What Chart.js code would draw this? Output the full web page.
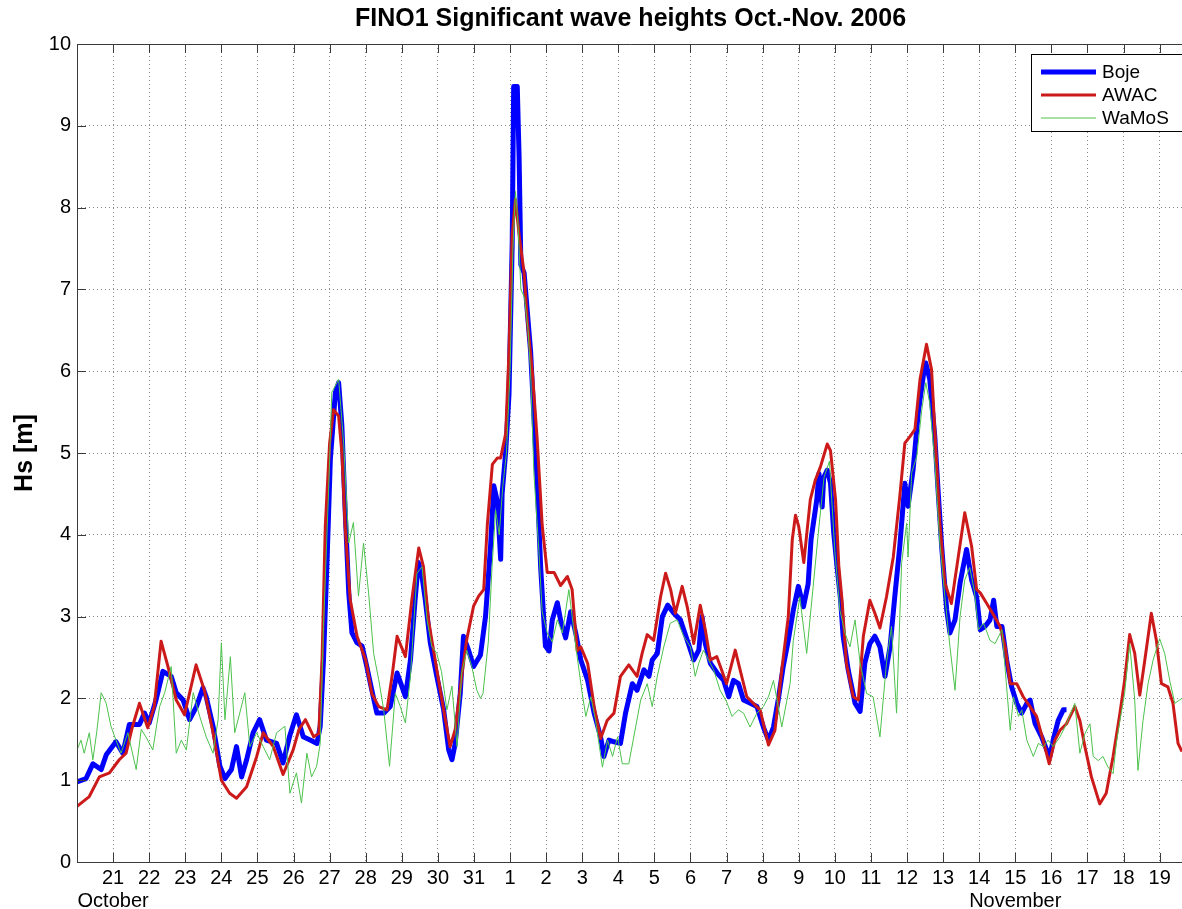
<!DOCTYPE html>
<html>
<head>
<meta charset="utf-8">
<script src="https://cdn.jsdelivr.net/npm/chart.js@4.4.0/dist/chart.umd.min.js"></script>
<style>
html,body{margin:0;padding:0;background:#fff;overflow:hidden;}
#wrap{width:1182px;height:909px;position:relative;}
</style>
</head>
<body>
<div id="wrap"><canvas id="c" width="1182" height="909"></canvas></div>
<script>
// x = days since 20 Oct 2006 00:00
const titleText = 'FINO1 Significant wave heights Oct.-Nov. 2006';
const yTitle = 'Hs [m]';
const xTickDays = [1,2,3,4,5,6,7,8,9,10,11,12,13,14,15,16,17,18,19,20,21,22,23,24,25,26,27,28,29,30];
const xTickLabels = ['21','22','23','24','25','26','27','28','29','30','31','1','2','3','4','5','6','7','8','9','10','11','12','13','14','15','16','17','18','19'];
const monthLabels = {1:'October', 26:'November'};
const yTicks = [0,1,2,3,4,5,6,7,8,9,10];
const seriesNames = ['Boje','AWAC','WaMoS'];

const bojeDay = [0,0.25,0.44,0.67,0.81,1.08,1.27,1.45,1.73,1.87,2.0,2.19,2.38,2.61,2.75,2.94,3.12,3.31,3.49,3.58,3.77,3.96,4.1,4.28,4.42,4.56,4.7,4.88,5.06,5.25,5.53,5.71,5.9,6.08,6.27,6.46,6.65,6.74,6.83,6.93,7.02,7.16,7.25,7.34,7.43,7.53,7.62,7.76,7.9,8.03,8.17,8.31,8.5,8.68,8.87,9.0,9.1,9.24,9.37,9.46,9.56,9.65,9.79,9.97,10.16,10.3,10.39,10.48,10.62,10.71,10.85,10.99,11.18,11.32,11.46,11.55,11.65,11.74,11.78,11.88,11.97,12.06,12.1,12.2,12.25,12.3,12.39,12.48,12.57,12.66,12.75,12.85,12.98,13.08,13.17,13.31,13.4,13.54,13.68,13.82,13.96,14.15,14.33,14.51,14.6,14.74,14.88,15.06,15.2,15.39,15.52,15.71,15.85,15.94,16.08,16.22,16.37,16.54,16.72,16.91,17.09,17.23,17.32,17.41,17.55,17.74,17.92,18.06,18.19,18.33,18.47,18.66,18.84,19.02,19.16,19.3,19.43,19.57,19.71,19.85,19.99,20.13,20.26,20.34,20.5,20.56,20.65,20.69,20.79,20.88,20.97,21.06,21.16,21.23,21.37,21.56,21.7,21.83,21.97,22.11,22.25,22.39,22.53,22.66,22.8,22.94,23.03,23.17,23.31,23.45,23.52,23.63,23.77,23.86,23.96,24.1,24.19,24.33,24.47,24.65,24.79,24.93,25.03,25.16,25.3,25.4,25.49,25.63,25.76,25.9,26.04,26.18,26.32,26.41,26.55,26.73,26.87,26.96,27.05,27.19,27.33,27.42];
const bojeHs  = [0.98,1.02,1.2,1.13,1.31,1.47,1.33,1.68,1.68,1.82,1.7,1.98,2.33,2.27,2.07,1.98,1.74,1.9,2.13,2.02,1.66,1.17,1.02,1.13,1.41,1.04,1.25,1.58,1.74,1.49,1.45,1.21,1.55,1.8,1.53,1.49,1.45,1.66,2.47,3.7,4.92,5.74,5.86,5.33,4.31,3.29,2.8,2.68,2.64,2.39,2.1,1.82,1.82,1.9,2.31,2.15,2.02,2.47,3.21,3.66,3.49,3.21,2.68,2.27,1.86,1.37,1.25,1.45,2.06,2.76,2.59,2.39,2.53,3.0,3.86,4.6,4.4,3.7,4.5,5.02,5.71,7.57,9.48,9.48,8.63,7.3,7.2,6.72,6.24,5.45,4.65,3.59,2.64,2.58,2.96,3.17,2.96,2.74,3.06,2.8,2.47,2.22,1.82,1.53,1.29,1.49,1.47,1.45,1.82,2.18,2.1,2.35,2.27,2.47,2.55,3.0,3.14,3.04,2.96,2.71,2.47,2.59,3.0,2.67,2.43,2.31,2.22,2.02,2.22,2.18,1.98,1.94,1.9,1.65,1.49,1.65,1.98,2.39,2.71,3.08,3.37,3.12,3.4,3.94,4.43,4.75,4.34,4.7,4.79,4.63,4.02,3.62,3.2,2.76,2.35,1.94,1.84,2.43,2.67,2.76,2.63,2.27,2.63,3.24,3.86,4.63,4.35,4.8,5.49,5.94,6.1,5.9,5.2,4.55,3.86,3.08,2.8,2.96,3.41,3.82,3.45,3.24,2.84,2.88,2.96,3.2,2.88,2.88,2.47,2.14,1.94,1.82,1.94,1.98,1.69,1.53,1.37,1.29,1.49,1.73,1.86,1.86];

const awacDay = [0,0.34,0.62,0.9,1.17,1.36,1.54,1.73,1.96,2.14,2.33,2.52,2.75,2.98,3.3,3.53,3.77,4.0,4.23,4.42,4.7,4.98,5.16,5.44,5.71,5.99,6.15,6.33,6.56,6.7,6.79,6.88,7.0,7.11,7.25,7.34,7.43,7.57,7.76,8.0,8.17,8.36,8.59,8.73,8.87,9.1,9.28,9.47,9.6,9.74,9.97,10.16,10.34,10.48,10.66,10.8,10.99,11.13,11.27,11.37,11.51,11.65,11.74,11.88,11.97,12.06,12.15,12.25,12.39,12.48,12.62,12.75,12.89,13.03,13.22,13.4,13.59,13.72,13.86,13.96,14.15,14.33,14.51,14.69,14.88,15.06,15.29,15.52,15.66,15.8,15.98,16.17,16.31,16.45,16.58,16.77,16.91,17.09,17.27,17.41,17.55,17.73,18.0,18.24,18.42,18.56,18.74,18.93,19.16,19.34,19.53,19.71,19.82,19.91,20.0,20.14,20.32,20.46,20.6,20.79,20.88,21.02,21.11,21.2,21.32,21.51,21.65,21.79,21.97,22.11,22.25,22.43,22.62,22.8,22.94,23.08,23.22,23.36,23.54,23.68,23.82,23.91,24.05,24.23,24.42,24.6,24.79,24.93,25.03,25.21,25.4,25.58,25.72,25.86,26.04,26.22,26.41,26.59,26.77,26.94,27.1,27.24,27.42,27.65,27.79,27.93,28.11,28.34,28.52,28.71,28.9,29.03,29.17,29.31,29.45,29.59,29.77,29.91,30.05,30.23,30.37,30.51,30.62];
const awacHs  = [0.68,0.8,1.04,1.09,1.25,1.33,1.66,1.94,1.64,1.9,2.7,2.39,1.98,1.8,2.41,2.1,1.58,1.0,0.84,0.78,0.92,1.29,1.58,1.41,1.07,1.37,1.62,1.74,1.53,1.57,2.47,4.1,5.12,5.53,5.45,5.0,4.1,3.21,2.76,2.47,2.06,1.9,1.86,2.27,2.76,2.51,3.21,3.84,3.61,2.96,2.35,1.86,1.41,1.62,2.27,2.72,3.13,3.25,3.33,4.12,4.86,4.94,4.94,5.24,6.24,7.67,8.1,7.67,7.2,6.61,5.98,5.18,4.12,3.54,3.54,3.38,3.49,3.33,2.58,2.63,2.43,1.9,1.51,1.73,1.82,2.27,2.41,2.27,2.55,2.78,2.71,3.24,3.53,3.33,3.04,3.37,3.12,2.67,3.14,2.84,2.47,2.51,2.18,2.59,2.27,2.02,1.94,1.86,1.43,1.61,2.35,3.0,3.94,4.24,4.1,3.66,4.43,4.67,4.83,5.11,5.03,4.43,3.62,3.2,2.43,2.02,1.98,2.76,3.2,3.04,2.86,3.24,3.73,4.47,5.12,5.2,5.29,5.9,6.33,6.02,4.88,4.14,3.41,3.16,3.73,4.27,3.86,3.33,3.29,3.16,3.02,2.88,2.63,2.18,2.18,2.02,1.9,1.78,1.49,1.2,1.49,1.61,1.69,1.9,1.73,1.41,1.04,0.71,0.84,1.29,1.82,2.22,2.78,2.55,2.04,2.47,3.04,2.71,2.18,2.14,1.94,1.45,1.35];

const wamosDay = [0,0.11,0.2,0.34,0.44,0.55,0.67,0.81,0.94,1.08,1.22,1.41,1.64,1.78,1.91,2.1,2.29,2.43,2.61,2.75,2.89,3.03,3.22,3.4,3.58,3.77,3.91,4.0,4.1,4.25,4.37,4.51,4.65,4.79,4.98,5.16,5.34,5.53,5.76,5.9,6.08,6.22,6.37,6.5,6.64,6.74,6.83,6.97,7.06,7.25,7.39,7.53,7.66,7.8,7.94,8.08,8.22,8.36,8.5,8.66,8.82,8.96,9.1,9.24,9.42,9.56,9.7,9.83,9.97,10.1,10.25,10.39,10.53,10.66,10.8,10.94,11.08,11.18,11.25,11.4,11.5,11.6,11.7,11.8,11.9,12.0,12.08,12.15,12.22,12.3,12.4,12.5,12.57,12.66,12.8,12.89,13.03,13.17,13.31,13.45,13.63,13.82,14.0,14.1,14.24,14.37,14.56,14.7,14.84,14.98,15.11,15.29,15.48,15.62,15.8,15.94,16.08,16.26,16.44,16.63,16.81,17.0,17.13,17.23,17.36,17.5,17.64,17.82,18.0,18.15,18.33,18.47,18.65,18.84,19.02,19.16,19.3,19.43,19.53,19.62,19.76,19.85,20.03,20.22,20.4,20.56,20.7,20.85,21.0,21.14,21.28,21.42,21.56,21.7,21.88,22.06,22.25,22.43,22.57,22.71,22.85,22.99,23.03,23.13,23.27,23.41,23.52,23.63,23.77,23.91,24.05,24.19,24.33,24.47,24.6,24.74,24.87,24.98,25.12,25.3,25.44,25.63,25.76,25.86,25.95,26.09,26.18,26.32,26.5,26.64,26.78,26.91,27.05,27.24,27.42,27.65,27.79,27.93,28.07,28.16,28.3,28.43,28.57,28.71,28.8,28.9,29.03,29.17,29.31,29.4,29.54,29.68,29.82,30.0,30.14,30.28,30.42,30.55,30.62];
const wamosHs  = [1.37,1.49,1.33,1.58,1.25,1.6,2.07,1.94,1.66,1.49,1.33,1.58,1.13,1.62,1.53,1.37,1.9,2.07,2.39,1.33,1.49,1.37,2.07,1.78,1.53,1.33,1.74,2.68,1.74,2.51,1.58,1.82,2.07,1.41,1.58,1.41,1.25,1.58,1.66,0.84,1.09,0.72,1.33,1.04,1.17,1.45,2.88,4.51,5.74,5.9,5.12,3.9,4.15,3.25,3.9,3.29,2.55,2.23,1.86,1.17,2.06,1.9,1.7,2.27,3.53,3.61,2.96,2.64,2.55,2.33,1.86,2.15,1.41,2.31,2.59,2.39,2.1,2.0,2.06,2.7,3.6,4.3,4.0,4.6,5.0,6.0,7.5,8.2,7.8,7.0,6.9,6.5,5.98,4.76,3.8,3.06,2.8,2.69,2.96,2.8,3.33,2.64,2.06,1.78,2.02,1.73,1.16,1.49,1.29,1.53,1.2,1.2,1.65,1.98,2.18,1.9,2.27,2.63,2.92,2.96,2.76,2.63,2.27,2.43,2.59,2.47,2.35,2.1,1.96,1.78,1.86,1.82,1.65,1.82,1.9,2.02,2.22,1.9,1.65,1.86,2.18,2.71,3.24,2.55,3.37,4.1,4.7,4.9,3.8,3.08,2.8,2.63,2.96,2.43,2.06,2.02,1.53,2.43,2.88,1.82,3.65,4.14,3.73,4.76,4.96,5.53,5.86,5.61,4.88,3.9,3.24,2.63,2.1,3.0,3.45,3.6,3.3,2.84,2.92,2.71,2.67,2.84,2.14,1.61,2.02,1.78,1.86,1.49,1.29,1.45,1.41,1.49,1.41,1.53,1.69,1.94,1.33,1.57,1.69,1.29,1.24,1.29,1.16,1.08,1.45,1.73,2.06,2.67,1.98,1.12,1.73,2.18,2.47,2.73,2.55,2.22,1.94,1.98,2.0];

const pts = (xs, ys) => xs.map((x, i) => ({x: x, y: ys[i]}));

const FONT = '"Liberation Sans", Arial, Helvetica, sans-serif';
Chart.defaults.font.family = FONT;
Chart.defaults.color = '#000';

const colors = {Boje: '#0000ff', AWAC: '#cc1a1a', WaMoS: '#4cc24c'};
const widths = {Boje: 5, AWAC: 3, WaMoS: 1};

const decorPlugin = {
  id: 'decor',
  afterDraw(chart) {
    const ctx = chart.ctx;
    const a = chart.chartArea;
    const xs = chart.scales.x, ys = chart.scales.y;
    ctx.save();
    // axes box and inward ticks
    ctx.strokeStyle = '#3a3a3a';
    ctx.lineWidth = 1;
    ctx.beginPath();
    ctx.moveTo(a.left + 0.5, a.top + 0.5);
    ctx.lineTo(a.right + 2, a.top + 0.5);
    ctx.moveTo(a.left + 0.5, a.top);
    ctx.lineTo(a.left + 0.5, a.bottom + 0.5);
    ctx.lineTo(a.right + 2, a.bottom + 0.5);
    const tl = 9;
    xTickDays.forEach(d => {
      const px = Math.round(xs.getPixelForValue(d)) + 0.5;
      ctx.moveTo(px, a.bottom); ctx.lineTo(px, a.bottom - tl);
      ctx.moveTo(px, a.top); ctx.lineTo(px, a.top + tl);
    });
    yTicks.forEach(v => {
      const py = Math.round(ys.getPixelForValue(v)) + 0.5;
      ctx.moveTo(a.left, py); ctx.lineTo(a.left + tl, py);
    });
    ctx.stroke();

    // title
    ctx.fillStyle = '#000';
    ctx.font = 'bold 25px ' + FONT;
    ctx.textAlign = 'center';
    ctx.textBaseline = 'middle';
    ctx.fillText(titleText, (a.left + a.right) / 2 + 1, 19);

    // legend (inside, north-east, cut by the page edge)
    const lx = 1031, ly = 54, lw = 200, lh = 77;
    ctx.fillStyle = '#fff';
    ctx.fillRect(lx, ly, lw, lh);
    ctx.strokeStyle = '#000';
    ctx.lineWidth = 1;
    ctx.strokeRect(lx + 0.5, ly + 0.5, lw, lh);
    ctx.font = '19px ' + FONT;
    ctx.textAlign = 'left';
    ctx.textBaseline = 'middle';
    chart.data.datasets.forEach((ds, i) => {
      const yy = ly + 18 + i * 23;
      ctx.strokeStyle = ds.borderColor;
      ctx.lineWidth = ds.borderWidth;
      ctx.beginPath();
      ctx.moveTo(lx + 10, yy); ctx.lineTo(lx + 65, yy);
      ctx.stroke();
      ctx.fillStyle = '#000';
      ctx.fillText(ds.label, lx + 71, yy + 1);
    });
    ctx.restore();
  }
};

const datasets = [
  {label: seriesNames[0], data: pts(bojeDay, bojeHs), borderColor: colors.Boje, borderWidth: widths.Boje, order: 3},
  {label: seriesNames[1], data: pts(awacDay, awacHs), borderColor: colors.AWAC, borderWidth: widths.AWAC, order: 2},
  {label: seriesNames[2], data: pts(wamosDay, wamosHs), borderColor: colors.WaMoS, borderWidth: widths.WaMoS, order: 1}
].map(d => Object.assign(d, {showLine: true, pointRadius: 0, tension: 0, fill: false, borderJoinStyle: 'round', borderCapStyle: 'butt'}));

new Chart(document.getElementById('c'), {
  type: 'scatter',
  data: {datasets: datasets},
  options: {
    responsive: false,
    animation: false,
    devicePixelRatio: 1,
    layout: {padding: {top: 44, left: 0, right: 0, bottom: 0}},
    plugins: {legend: {display: false}, tooltip: {enabled: false}, title: {display: false}},
    scales: {
      x: {
        type: 'linear',
        min: 0,
        max: 30.62,
        afterBuildTicks: s => { s.ticks = xTickDays.map(v => ({value: v})); },
        afterFit: s => { s.height = 47; },
        grid: {color: '#8a8a8a', lineWidth: 1, drawTicks: false},
        border: {display: false, dash: [1, 3]},
        ticks: {
          padding: 5,
          font: {size: 20, lineHeight: 1.15},
          color: '#000',
          maxRotation: 0,
          autoSkip: false,
          callback: (v) => {
            const i = xTickDays.indexOf(v);
            if (i < 0) return '';
            return monthLabels[v] ? [xTickLabels[i], monthLabels[v]] : xTickLabels[i];
          }
        }
      },
      y: {
        type: 'linear',
        min: 0,
        max: 10,
        afterBuildTicks: s => { s.ticks = yTicks.map(v => ({value: v})); },
        afterFit: s => { s.width = 77; },
        grid: {color: '#8a8a8a', lineWidth: 1, drawTicks: false},
        border: {display: false, dash: [1, 3]},
        title: {display: true, text: yTitle, font: {size: 25, weight: 'bold'}, padding: {top: 10, bottom: 0}, color: '#000'},
        ticks: {padding: 6, font: {size: 20}, color: '#000', callback: v => String(v)}
      }
    }
  },
  plugins: [decorPlugin]
});
</script>
</body>
</html>
